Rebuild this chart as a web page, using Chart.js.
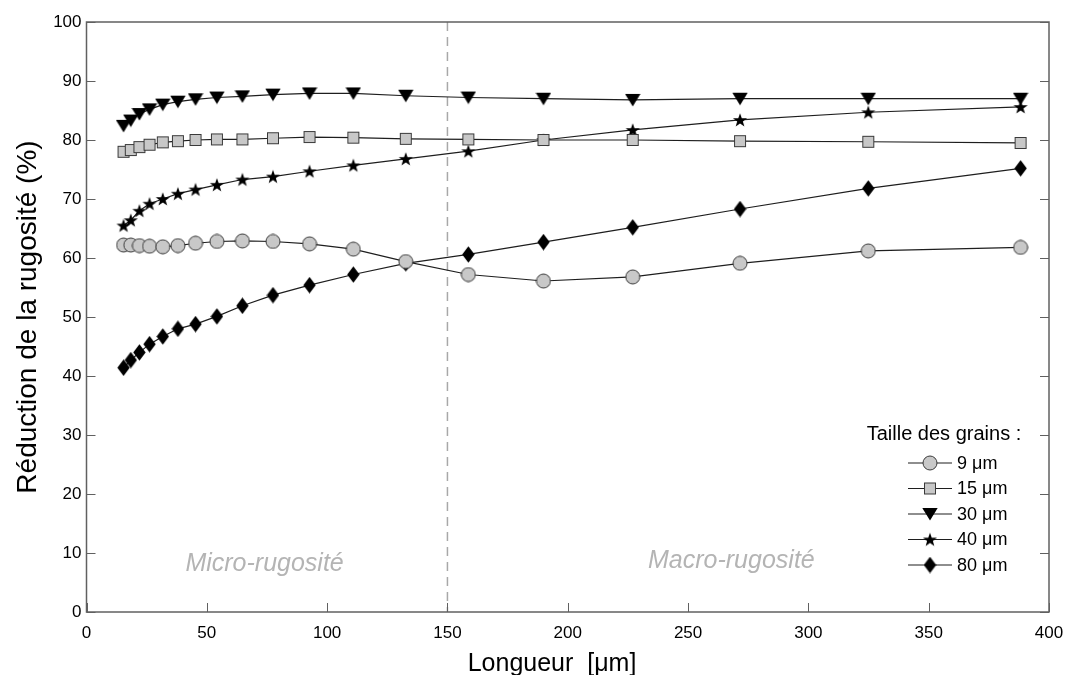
<!DOCTYPE html>
<html>
<head>
<meta charset="utf-8">
<script src="https://cdn.jsdelivr.net/npm/chart.js@4/dist/chart.umd.min.js"></script>
<style>
  html, body { margin: 0; padding: 0; background: #fff; }
  #wrap { width: 1066px; height: 675px; }
</style>
</head>
<body>
<div id="wrap"><canvas id="chart"></canvas></div>
<script>
// Longueur (µm) - common abscissa for all grain sizes
const longueurs = [15.4, 18.4, 22.0, 26.2, 31.7, 38.0, 45.3, 54.2, 64.8, 77.5, 92.7, 110.9, 132.7, 158.7, 189.9, 227.0, 271.6, 324.9, 388.2];

// Réduction de la rugosité (%) per grain size
const grain9 = [62.2, 62.2, 62.1, 62.0, 61.9, 62.1, 62.5, 62.8, 62.9, 62.8, 62.4, 61.5, 59.4, 57.2, 56.1, 56.8, 59.1, 61.2, 61.8];
const grain15 = [78.0, 78.3, 78.8, 79.2, 79.6, 79.8, 80.0, 80.1, 80.1, 80.3, 80.5, 80.4, 80.2, 80.1, 80.0, 80.0, 79.8, 79.7, 79.5];
const grain30 = [82.4, 83.3, 84.4, 85.2, 86.0, 86.5, 86.9, 87.2, 87.4, 87.7, 87.9, 87.9, 87.5, 87.2, 87.0, 86.8, 87.0, 87.0, 87.0];
const grain40 = [65.5, 66.4, 68.0, 69.2, 70.0, 70.9, 71.6, 72.4, 73.3, 73.8, 74.7, 75.7, 76.8, 78.1, 80.0, 81.7, 83.4, 84.7, 85.6];
const grain80 = [41.4, 42.7, 44.0, 45.4, 46.7, 48.0, 48.8, 50.1, 51.9, 53.7, 55.4, 57.2, 59.1, 60.6, 62.7, 65.2, 68.3, 71.8, 75.2];

const seriesLabels = ['9 μm', '15 μm', '30 μm', '40 μm', '80 μm'];
const xTicks = [0, 50, 100, 150, 200, 250, 300, 350, 400];
const yTicks = [0, 10, 20, 30, 40, 50, 60, 70, 80, 90, 100];
const limite = 150; // micro / macro boundary

const FONT = '"Liberation Sans", Arial, sans-serif';

// Marker images
const makeMarker = (w, h, draw) => {
  const c = document.createElement('canvas');
  c.width = w; c.height = h;
  const g = c.getContext('2d');
  draw(g, w, h);
  return c;
};

const circleMarker = makeMarker(16, 16, (g) => {
  g.beginPath();
  g.arc(8, 8, 7, 0, Math.PI * 2);
  g.fillStyle = '#c8c8c8';
  g.fill();
  g.lineWidth = 1;
  g.strokeStyle = '#3a3a3a';
  g.stroke();
});

const squareMarker = makeMarker(14, 14, (g) => {
  g.fillStyle = '#c8c8c8';
  g.fillRect(1, 1, 12, 12);
  g.lineWidth = 1;
  g.strokeStyle = '#3a3a3a';
  g.strokeRect(1.5, 1.5, 11, 11);
});

const triangleMarker = makeMarker(16, 14, (g) => {
  g.beginPath();
  g.moveTo(0.3, 1);
  g.lineTo(15.7, 1);
  g.lineTo(8, 13.5);
  g.closePath();
  g.fillStyle = '#000';
  g.fill();
});

const starMarker = makeMarker(16, 16, (g) => {
  g.beginPath();
  for (let i = 0; i < 10; i++) {
    const r = i % 2 === 0 ? 7.4 : 3.0;
    const a = -Math.PI / 2 + i * Math.PI / 5;
    const px = 8 + r * Math.cos(a);
    const py = 8.6 + r * Math.sin(a);
    if (i === 0) g.moveTo(px, py); else g.lineTo(px, py);
  }
  g.closePath();
  g.fillStyle = '#000';
  g.fill();
});

const diamondMarker = makeMarker(13, 17, (g) => {
  g.beginPath();
  g.moveTo(6.5, 0.3);
  g.lineTo(12.7, 8.5);
  g.lineTo(6.5, 16.7);
  g.lineTo(0.3, 8.5);
  g.closePath();
  g.fillStyle = '#000';
  g.fill();
});

const markers = [circleMarker, squareMarker, triangleMarker, starMarker, diamondMarker];
const seriesValues = [grain9, grain15, grain30, grain40, grain80];

const toPoints = (vals) => vals.map((v, i) => ({ x: longueurs[i], y: v }));

const datasets = seriesValues.map((vals, i) => ({
  label: seriesLabels[i],
  data: toPoints(vals),
  borderColor: '#1e1e1e',
  borderWidth: 1.2,
  pointStyle: markers[i],
  pointRadius: 7,
  pointHoverRadius: 7,
  tension: 0,
  fill: false
}));

// Draw order: circles on top of diamonds near the crossing
datasets[0].order = -1;

// Dashed boundary + region labels
const zonesPlugin = {
  id: 'zones',
  beforeDatasetsDraw(chart) {
    const { ctx, chartArea, scales } = chart;
    const x = scales.x.getPixelForValue(limite);
    ctx.save();
    ctx.strokeStyle = '#a8a8a8';
    ctx.lineWidth = 1.5;
    ctx.setLineDash([9, 6]);
    ctx.beginPath();
    ctx.moveTo(x, chartArea.top);
    ctx.lineTo(x, chartArea.bottom);
    ctx.stroke();
    ctx.setLineDash([]);

    ctx.fillStyle = '#b4b4b4';
    ctx.font = 'italic 25px ' + FONT;
    ctx.textAlign = 'center';
    ctx.textBaseline = 'middle';
    ctx.fillText('Micro-rugosité', scales.x.getPixelForValue(74), scales.y.getPixelForValue(8.2));
    ctx.fillText('Macro-rugosité', scales.x.getPixelForValue(268), scales.y.getPixelForValue(8.7));
    ctx.restore();
  }
};

// Box frame, inward ticks, x title and custom legend
const framePlugin = {
  id: 'frame',
  afterDraw(chart) {
    const { ctx, chartArea, scales } = chart;
    const { left, right, top, bottom } = chartArea;
    ctx.save();
    ctx.strokeStyle = '#606060';
    ctx.lineWidth = 1.5;
    ctx.strokeRect(left, top, right - left, bottom - top);

    ctx.lineWidth = 1;
    ctx.beginPath();
    yTicks.forEach((v) => {
      const y = Math.round(scales.y.getPixelForValue(v)) + 0.5;
      ctx.moveTo(left, y); ctx.lineTo(left + 9, y);
      ctx.moveTo(right, y); ctx.lineTo(right - 9, y);
    });
    xTicks.forEach((v) => {
      const x = Math.round(scales.x.getPixelForValue(v)) + 0.5;
      ctx.moveTo(x, bottom); ctx.lineTo(x, bottom - 9);
    });
    ctx.stroke();

    // X axis title (sits a little left of centre in the original)
    ctx.fillStyle = '#000';
    ctx.font = '25px ' + FONT;
    ctx.textAlign = 'center';
    ctx.textBaseline = 'alphabetic';
    ctx.fillText('Longueur  [μm]', 552, 671);

    // Legend
    const lx = 930;
    ctx.font = '20px ' + FONT;
    ctx.textBaseline = 'middle';
    ctx.fillText('Taille des grains :', 944, 434);
    ctx.font = '18px ' + FONT;
    ctx.textAlign = 'left';
    chart.data.datasets.forEach((ds, i) => {
      const y = 463 + i * 25.5;
      ctx.strokeStyle = '#1e1e1e';
      ctx.lineWidth = 1.2;
      ctx.beginPath();
      ctx.moveTo(908, y); ctx.lineTo(952, y);
      ctx.stroke();
      const img = ds.pointStyle;
      ctx.drawImage(img, lx - img.width / 2, y - img.height / 2);
      ctx.fillText(ds.label, 957, y + 1);
    });
    ctx.restore();
  }
};

new Chart(document.getElementById('chart'), {
  type: 'line',
  data: { datasets },
  options: {
    responsive: true,
    maintainAspectRatio: false,
    animation: false,
    events: [],
    layout: { padding: { top: 22, right: 17, left: 0, bottom: 0 } },
    plugins: {
      legend: { display: false },
      tooltip: { enabled: false }
    },
    scales: {
      x: {
        type: 'linear',
        min: 0,
        max: 400,
        afterFit: (scale) => {
          scale.height = 63;
          scale.paddingLeft = 0;
          scale.paddingRight = 0;
        },
        afterBuildTicks: (scale) => { scale.ticks = xTicks.map((v) => ({ value: v })); },
        grid: { display: false, drawTicks: false },
        border: { display: false },
        ticks: {
          padding: 11,
          color: '#000',
          font: { family: FONT, size: 17 },
          maxRotation: 0
        }
      },
      y: {
        min: 0,
        max: 100,
        afterFit: (scale) => {
          scale.width = 86.5;
          scale.paddingTop = 0;
          scale.paddingBottom = 0;
        },
        afterBuildTicks: (scale) => { scale.ticks = yTicks.map((v) => ({ value: v })); },
        grid: { display: false, drawTicks: false },
        border: { display: false },
        ticks: {
          padding: 5,
          color: '#000',
          font: { family: FONT, size: 17 }
        },
        title: {
          display: true,
          text: 'Réduction de la rugosité (%)',
          color: '#000',
          font: { family: FONT, size: 28 },
          padding: { top: 11, bottom: 0 }
        }
      }
    }
  },
  plugins: [zonesPlugin, framePlugin]
});
</script>
</body>
</html>
